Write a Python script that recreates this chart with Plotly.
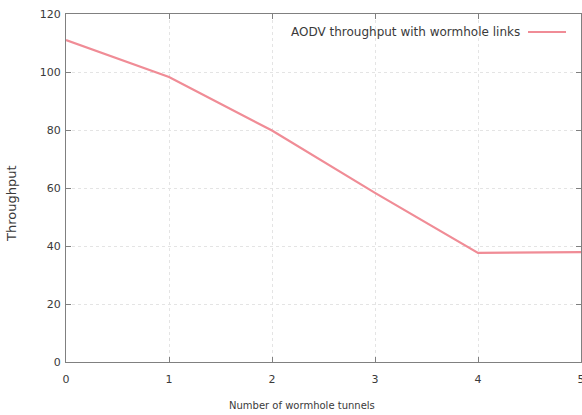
import plotly.graph_objects as go

tunnels = [0, 1, 2, 3, 4, 5]
throughput = [111, 98.3, 79.8, 58.3, 37.6, 37.9]
series_name = "AODV throughput with wormhole links"
x_title = "Number of wormhole tunnels"
y_title = "Throughput"
x_ticks = [0, 1, 2, 3, 4, 5]
y_ticks = [0, 20, 40, 60, 80, 100, 120]

line_color = "#f08c96"
txt = "#3a3a3a"
font = dict(family="DejaVu Sans", size=11, color=txt)

fig = go.Figure()
fig.add_trace(go.Scatter(x=tunnels, y=throughput, mode="lines",
                         line=dict(color=line_color, width=2.2),
                         name=series_name, showlegend=False))

axis_common = dict(showline=True, linecolor="#808080", linewidth=1.2, mirror="ticks",
                   ticks="inside", ticklen=5, tickcolor="#808080",
                   showgrid=True, gridcolor="#e4e4e4", griddash="dot", gridwidth=1,
                   zeroline=False, tickfont=font, ticklabeloverflow="allow",
                   automargin=False)

fig.update_xaxes(range=[0, 5], tickvals=x_ticks, ticklabelstandoff=7, **axis_common)
fig.update_yaxes(range=[0, 120], tickvals=y_ticks, ticklabelstandoff=2, **axis_common)

# axis titles
fig.add_annotation(xref="paper", yref="paper", x=(302 - 66) / 515, y=-(405 - 362) / 348,
                   xanchor="center", yanchor="middle", showarrow=False,
                   text=x_title, font=dict(family="DejaVu Sans", size=10, color=txt))
fig.add_annotation(xref="paper", yref="paper", x=-(66 - 12) / 515, y=(362 - 204) / 348,
                   xanchor="center", yanchor="middle", showarrow=False, textangle=-90,
                   text=y_title, font=dict(family="DejaVu Sans", size=13, color=txt))

# key (gnuplot style: text then sample)
fig.add_annotation(xref="paper", yref="paper", x=(522 - 66) / 515, y=(362 - 32) / 348,
                   xanchor="right", yanchor="middle", showarrow=False,
                   text=series_name, font=dict(family="DejaVu Sans", size=12, color=txt))
fig.add_shape(type="line", xref="paper", yref="paper",
              x0=(528 - 66) / 515, x1=(566 - 66) / 515,
              y0=(362 - 32) / 348, y1=(362 - 32) / 348,
              line=dict(color=line_color, width=2))

fig.update_layout(width=582, height=415, margin=dict(l=66, r=1, t=14, b=53),
                  plot_bgcolor="white", paper_bgcolor="white", font=font)
fig.write_html("out.html")
